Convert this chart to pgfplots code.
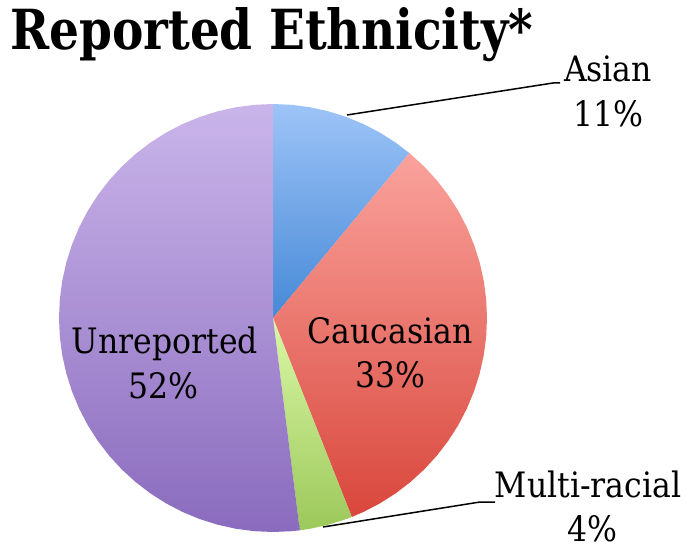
\documentclass[border=0pt]{standalone}
\usepackage{fontspec}
\setmainfont{DejaVu Serif Condensed}
\usepackage{pgfplots}
\pgfplotsset{compat=1.18}
\usepgfplotslibrary{polar}
\definecolor{asTop}{HTML}{9DC4F8}
\definecolor{asBot}{HTML}{4689D6}
\definecolor{caTop}{HTML}{FAA29C}
\definecolor{caBot}{HTML}{D9473C}
\definecolor{muTop}{HTML}{DAF7A6}
\definecolor{muBot}{HTML}{9CC95A}
\definecolor{unTop}{HTML}{CAB5EA}
\definecolor{unBot}{HTML}{8A6BBE}
\tikzset{lbl/.style={anchor=base, inner sep=0pt, text=black, font=\fontsize{35}{42}\selectfont}}
\begin{document}
\begin{tikzpicture}
\begin{axis}[
  hide axis, scale only axis, width=688pt, height=550pt,
  xmin=-273, xmax=415, ymin=-232, ymax=318,
  clip=false, at={(0,0)}, anchor=south west,
]
% Asian 11%
\addplot[data cs=polar, draw=none, shade, top color=asTop, bottom color=asBot] coordinates {
(0,0) (50.4,214) (55,214) (60,214) (65,214) (70,214) (75,214) (80,214) (85,214) (90,214)} -- cycle;
% Caucasian 33%
\addplot[data cs=polar, draw=none, shade, top color=caTop, bottom color=caBot] coordinates {
(0,0) (-68.4,214) (-65,214) (-60,214) (-55,214) (-50,214) (-45,214) (-40,214) (-35,214) (-30,214)
(-25,214) (-20,214) (-15,214) (-10,214) (-5,214) (0,214) (5,214) (10,214) (15,214) (20,214)
(25,214) (30,214) (35,214) (40,214) (45,214) (50,214) (50.4,214)} -- cycle;
% Multi-racial 4%
\addplot[data cs=polar, draw=none, shade, top color=muTop, bottom color=muBot] coordinates {
(0,0) (-82.8,214) (-80,214) (-75,214) (-70,214) (-68.4,214)} -- cycle;
% Unreported 52%
\addplot[data cs=polar, draw=none, shade, top color=unTop, bottom color=unBot] coordinates {
(0,0) (90,214) (95,214) (100,214) (105,214) (110,214) (115,214) (120,214) (125,214) (130,214)
(135,214) (140,214) (145,214) (150,214) (155,214) (160,214) (165,214) (170,214) (175,214) (180,214)
(185,214) (190,214) (195,214) (200,214) (205,214) (210,214) (215,214) (220,214) (225,214) (230,214)
(235,214) (240,214) (245,214) (250,214) (255,214) (260,214) (265,214) (270,214) (275,214) (277.2,214)} -- cycle;
% leader lines
\addplot[black, line width=1.5pt] coordinates {(74,203) (280,235) (287,235)};
\addplot[black, line width=1.5pt] coordinates {(50,-209) (207,-184) (222,-184)};
% labels
\node[lbl] at (axis cs:335,236) {Asian};
\node[lbl] at (axis cs:335,191) {11\%};
\node[lbl] at (axis cs:-108,-35) {Unreported};
\node[lbl] at (axis cs:-110,-80) {52\%};
\node[lbl] at (axis cs:117,-25) {Caucasian};
\node[lbl] at (axis cs:117,-69) {33\%};
\node[lbl] at (axis cs:315,-179) {Multi-racial};
\node[lbl] at (axis cs:319,-223) {4\%};
\node[anchor=base west, inner sep=0pt] at (axis cs:-263,268) {\resizebox{523pt}{42pt}{\bfseries Reported Ethnicity*}};
\end{axis}
\pgfresetboundingbox
\path[use as bounding box] (current axis.south west) rectangle (current axis.north east);
\end{tikzpicture}
\end{document}
